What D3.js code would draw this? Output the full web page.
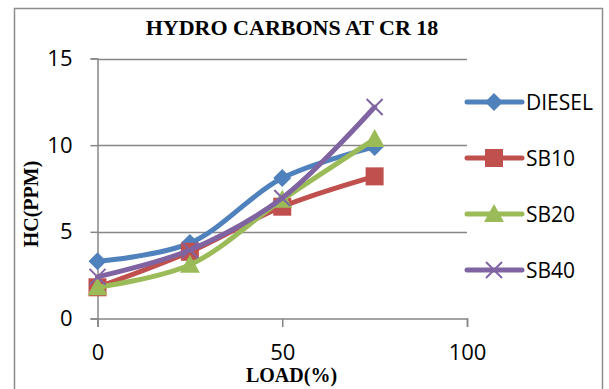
<!DOCTYPE html>
<html>
<head>
<meta charset="utf-8">
<script src="https://cdn.jsdelivr.net/npm/d3@7"></script>
<style>
  html, body { margin: 0; padding: 0; background: #fff; }
  svg { display: block; }
</style>
</head>
<body>
<svg id="chart" width="609" height="389"></svg>
<script>
// Engine load (%) on the x axis
const loads = [0, 25, 50, 75];
// HC emissions (ppm) per fuel blend
const diesel = [3.3, 4.35, 8.1, 9.9];
const sb10 = [1.8, 3.85, 6.45, 8.2];
const sb20 = [1.8, 3.1, 6.85, 10.35];
const sb40 = [2.4, 3.95, 6.95, 12.2];
const seriesNames = ["DIESEL", "SB10", "SB20", "SB40"];
const xTicks = [0, 50, 100];
const yTicks = [0, 5, 10, 15];

const series = [
  { name: seriesNames[0], values: diesel, color: "#4F81BD", marker: "diamond" },
  { name: seriesNames[1], values: sb10, color: "#C0504D", marker: "square" },
  { name: seriesNames[2], values: sb20, color: "#9BBB59", marker: "triangle" },
  { name: seriesNames[3], values: sb40, color: "#8064A2", marker: "cross" }
];

const svg = d3.select("#chart");
const plot = { left: 97.5, right: 467, top: 58.5, bottom: 318.5 };
const sansFont = "'Open Sans', 'Liberation Sans', sans-serif";
const serifFont = "'Liberation Serif', 'Times New Roman', serif";

// outer chart frame
svg.append("rect")
  .attr("x", 14.5).attr("y", 8.5)
  .attr("width", 588).attr("height", 390)
  .attr("fill", "#fff").attr("stroke", "#8c8c8c").attr("stroke-width", 1.5);

const x = d3.scaleLinear().domain([0, 100]).range([plot.left, plot.right]);
const y = d3.scaleLinear().domain([0, 15]).range([plot.bottom, plot.top]);

const gridColor = "#868686";

// horizontal gridlines
svg.append("g").selectAll("line")
  .data(yTicks.filter(d => d > 0))
  .join("line")
  .attr("x1", plot.left).attr("x2", plot.right)
  .attr("y1", d => Math.round(y(d)) + 0.5).attr("y2", d => Math.round(y(d)) + 0.5)
  .attr("stroke", gridColor).attr("stroke-width", 1.5);

// y axis
const yAxis = svg.append("g")
  .attr("transform", `translate(${plot.left},0)`)
  .call(d3.axisLeft(y).tickValues(yTicks).tickSize(7).tickPadding(18).tickFormat(d3.format("d")));
yAxis.select(".domain").attr("stroke", gridColor).attr("stroke-width", 1.5);
yAxis.selectAll(".tick line").attr("stroke", gridColor).attr("stroke-width", 1.5);
yAxis.selectAll(".tick text")
  .attr("fill", "#000")
  .style("font-family", sansFont)
  .style("font-size", "22px");

// x axis
const xAxis = svg.append("g")
  .attr("transform", `translate(0,${plot.bottom})`)
  .call(d3.axisBottom(x).tickValues(xTicks).tickSize(8.5).tickPadding(17).tickFormat(d3.format("d")));
xAxis.select(".domain").attr("stroke", gridColor).attr("stroke-width", 1.5);
xAxis.selectAll(".tick line").attr("stroke", gridColor).attr("stroke-width", 1.5);
xAxis.selectAll(".tick text")
  .attr("fill", "#000")
  .style("font-family", sansFont)
  .style("font-size", "22px");

// title and axis titles
svg.append("text")
  .attr("x", 292).attr("y", 35)
  .attr("text-anchor", "middle")
  .style("font-family", serifFont)
  .style("font-weight", "bold").style("font-size", "22px")
  .text("HYDRO CARBONS AT CR 18");

svg.append("text")
  .attr("transform", "translate(38,204) rotate(-90)")
  .attr("text-anchor", "middle")
  .style("font-family", serifFont)
  .style("font-weight", "bold").style("font-size", "20px")
  .text("HC(PPM)");

svg.append("text")
  .attr("x", 291.5).attr("y", 382)
  .attr("text-anchor", "middle")
  .style("font-family", serifFont)
  .style("font-weight", "bold").style("font-size", "20px")
  .text("LOAD(%)");

// marker drawing
function drawMarker(g, type, color, cx, cy) {
  if (type === "diamond") {
    g.append("path")
      .attr("d", `M${cx},${cy - 9}L${cx + 9},${cy}L${cx},${cy + 9}L${cx - 9},${cy}Z`)
      .attr("fill", color);
  } else if (type === "square") {
    g.append("rect")
      .attr("x", cx - 9).attr("y", cy - 9).attr("width", 18).attr("height", 18)
      .attr("fill", color);
  } else if (type === "triangle") {
    g.append("path")
      .attr("d", `M${cx},${cy - 10}L${cx + 10},${cy + 8}L${cx - 10},${cy + 8}Z`)
      .attr("fill", color);
  } else if (type === "cross") {
    g.append("path")
      .attr("d", `M${cx - 8},${cy - 8}L${cx + 8},${cy + 8}M${cx + 8},${cy - 8}L${cx - 8},${cy + 8}`)
      .attr("stroke", color).attr("stroke-width", 2).attr("fill", "none");
  }
}

const line = d3.line()
  .x((d, i) => x(loads[i]))
  .y(d => y(d))
  .curve(d3.curveCatmullRom.alpha(0.5));

const lines = svg.append("g");
series.forEach(s => {
  const g = lines.append("g");
  g.append("path")
    .attr("d", line(s.values))
    .attr("fill", "none")
    .attr("stroke", s.color)
    .attr("stroke-width", 5)
    .attr("stroke-linejoin", "round")
    .attr("stroke-linecap", "round");
  s.values.forEach((v, i) => drawMarker(g, s.marker, s.color, x(loads[i]), y(v)));
});

// legend
const legend = svg.append("g");
series.forEach((s, i) => {
  const ly = 102 + i * 56;
  const g = legend.append("g");
  g.append("line")
    .attr("x1", 467).attr("x2", 522).attr("y1", ly).attr("y2", ly)
    .attr("stroke", s.color).attr("stroke-width", 5).attr("stroke-linecap", "round");
  drawMarker(g, s.marker, s.color, 494, ly);
  g.append("text")
    .attr("x", 526).attr("y", ly + 8)
    .style("font-family", sansFont)
    .style("font-size", "21px")
    .text(s.name);
});
</script>
</body>
</html>
